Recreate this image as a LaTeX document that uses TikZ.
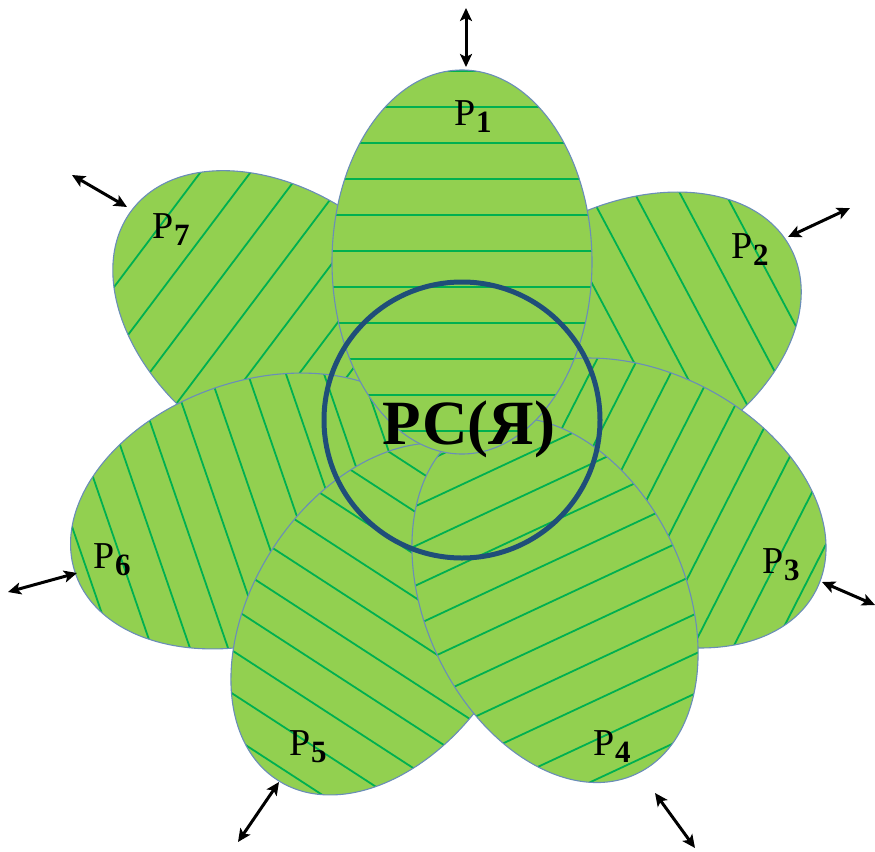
\documentclass[tikz,border=0pt]{standalone}
\usepackage{fontspec}
\setmainfont{Liberation Serif}
\usetikzlibrary{arrows.meta}
\definecolor{petalfill}{HTML}{92D050}
\definecolor{hatchgreen}{HTML}{00B050}
\definecolor{petaledge}{HTML}{6A8DB8}
\definecolor{ringblue}{HTML}{1F4E79}
\tikzset{
  hatchline/.style={draw=hatchgreen, line width=1.8pt},
  petalline/.style={draw=petaledge, line width=1.1pt},
  ring/.style={circle, draw=ringblue, line width=5pt, minimum size=276pt, inner sep=0pt},
  title/.style={font=\bfseries\fontsize{63}{63}\selectfont, inner sep=0pt, anchor=base},
  plab/.style={font=\fontsize{38}{38}\selectfont, inner sep=0pt, anchor=base},
  dblarrow/.style={{Stealth[length=13pt,width=12pt,inset=3pt]}-{Stealth[length=13pt,width=12pt,inset=3pt]}, line width=3pt, black}
}
% #1,#2 centre, #3 outward direction, #4 hatch phase, #5 hatch spacing
\newcommand\petal[5]{%
  \begin{scope}[shift={(#1,#2)},rotate=#3-90]
    \fill[petalfill] (0pt,0pt) ellipse [x radius=130pt, y radius=192pt];
    \begin{scope}
      \clip (0pt,0pt) ellipse [x radius=130pt, y radius=192pt];
      \foreach \k in {-7,...,7}
        \draw[hatchline] (-230pt,\k*#5+#4) -- (230pt,\k*#5+#4);
    \end{scope}
    \draw[petalline] (0pt,0pt) ellipse [x radius=130pt, y radius=192pt];
  \end{scope}}
\newcommand\sub[1]{\kern0.5pt\raisebox{-7pt}{\fontsize{31}{31}\selectfont\bfseries #1}}
\begin{document}
\begin{tikzpicture}[x=1pt,y=-1pt]
  \useasboundingbox (0,0) rectangle (875,851);
  % petals, back to front
  \petal{285}{326}{143}{0pt}{40pt}
  \petal{621}{338}{28}{0pt}{40pt}
  \petal{257}{511}{-161}{0pt}{36pt}
  \petal{645}{503}{-27}{0pt}{36pt}
  \petal{382}{619}{-123}{0pt}{36pt}
  \petal{555}{600}{-65}{0pt}{36pt}
  \petal{462}{262}{90}{11pt}{36pt}
  % central ring and title
  \node[ring] (core) at (462,420) {};
  \node[title] (name) at (469,444) {РС(Я)};
  % labels
  \node[plab] (l1) at (473,125) {P\sub{1}};
  \node[plab] (l2) at (750,258) {P\sub{2}};
  \node[plab] (l3) at (781,573) {P\sub{3}};
  \node[plab] (l4) at (612,755) {P\sub{4}};
  \node[plab] (l5) at (308,755) {P\sub{5}};
  \node[plab] (l6) at (112,568) {P\sub{6}};
  \node[plab] (l7) at (171,238) {P\sub{7}};
  % arrow end points
  \coordinate (a1o) at (466,8);   \coordinate (a1i) at (466,67);
  \coordinate (a2o) at (850,208); \coordinate (a2i) at (788,237);
  \coordinate (a3o) at (875,605); \coordinate (a3i) at (822,582);
  \coordinate (a4o) at (695,848); \coordinate (a4i) at (655,793);
  \coordinate (a5o) at (238,842); \coordinate (a5i) at (279,782);
  \coordinate (a6o) at (8,592);   \coordinate (a6i) at (77,573);
  \coordinate (a7o) at (72,175);  \coordinate (a7i) at (127,207);
  \draw[dblarrow] (a1o) -- (a1i);
  \draw[dblarrow] (a2o) -- (a2i);
  \draw[dblarrow] (a3o) -- (a3i);
  \draw[dblarrow] (a4o) -- (a4i);
  \draw[dblarrow] (a5o) -- (a5i);
  \draw[dblarrow] (a6o) -- (a6i);
  \draw[dblarrow] (a7o) -- (a7i);
\end{tikzpicture}
\end{document}
